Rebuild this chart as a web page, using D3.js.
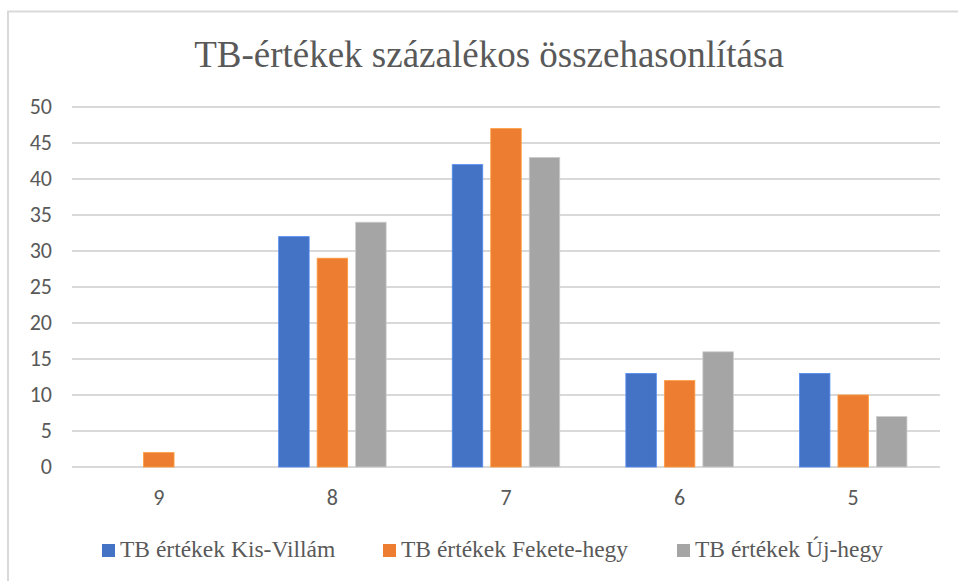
<!DOCTYPE html>
<html>

<head>
    <style>
        body {
            margin: 0;
            background: #fff;
        }

        .grid line {
            stroke: #d9d9d9;
            stroke-width: 2;
        }
    </style>
    <script src="https://d3js.org/d3.v7.min.js"></script>
</head>

<body>
    <svg width="958" height="581"></svg>
    <script>
        var categories = ["9", "8", "7", "6", "5"];
        var seriesNames = ["TB értékek Kis-Villám", "TB értékek Fekete-hegy", "TB értékek Új-hegy"];
        var kisVillam = [0, 32, 42, 13, 13];
        var feketeHegy = [2, 29, 47, 12, 10];
        var ujHegy = [0, 34, 43, 16, 7];
        var yTicks = [0, 5, 10, 15, 20, 25, 30, 35, 40, 45, 50];
        var colors = ["#4472c4", "#ed7d31", "#a5a5a5"];

        var seriesValues = [kisVillam, feketeHegy, ujHegy];

        var svg = d3.select("svg"),
            plotLeft = 72,
            plotRight = 940,
            plotTop = 107,
            plotBottom = 467;

        // chart frame (only top and left edges visible in the cut)
        svg.append("path")
            .attr("d", "M8,590 L8,11.5 L958,11.5")
            .attr("fill", "none")
            .attr("stroke", "#d9d9d9")
            .attr("stroke-width", 2);

        svg.append("text")
            .attr("x", 489)
            .attr("y", 67)
            .attr("text-anchor", "middle")
            .style("font-family", "'Liberation Serif'")
            .style("font-size", "37px")
            .style("fill", "#595959")
            .text("TB-értékek százalékos összehasonlítása");

        var x0 = d3.scaleBand().domain(categories).range([plotLeft, plotRight]),
            x1 = d3.scaleBand().domain(d3.range(3)).range([0, 107.5]).paddingInner(0.208),
            y = d3.scaleLinear().domain([0, 50]).range([plotBottom, plotTop]);

        var grid = svg.append("g").attr("class", "grid");
        grid.selectAll("line")
            .data(yTicks)
            .enter().append("line")
            .attr("x1", plotLeft)
            .attr("x2", plotRight)
            .attr("y1", function (d) { return y(d); })
            .attr("y2", function (d) { return y(d); });

        function tickStyle(sel) {
            sel.style("font-family", "Carlito")
                .style("font-size", "22px")
                .style("fill", "#595959");
        }

        svg.append("g").selectAll("text")
            .data(yTicks)
            .enter().append("text")
            .call(tickStyle)
            .attr("x", 52)
            .attr("y", function (d) { return y(d) - 1; })
            .attr("dy", "0.35em")
            .attr("text-anchor", "end")
            .text(function (d) { return d; });

        svg.append("g").selectAll("text")
            .data(categories)
            .enter().append("text")
            .call(tickStyle)
            .attr("x", function (d) { return x0(d) + x0.bandwidth() / 2; })
            .attr("y", 497)
            .attr("dy", "0.35em")
            .attr("text-anchor", "middle")
            .text(function (d) { return d; });

        var groupOffset = (x0.bandwidth() - 107.5) / 2;

        seriesValues.forEach(function (vals, si) {
            svg.append("g").selectAll("rect")
                .data(vals)
                .enter().append("rect")
                .attr("x", function (d, i) { return x0(categories[i]) + groupOffset + x1(si); })
                .attr("y", function (d) { return y(d); })
                .attr("width", x1.bandwidth())
                .attr("height", function (d) { return plotBottom - y(d); })
                .attr("fill", colors[si])
                .attr("stroke", d3.color(colors[si]).brighter(0.6))
                .attr("stroke-width", 0.8)
                .attr("display", function (d) { return d > 0 ? null : "none"; });
        });

        // legend
        var legendX = [102, 383, 677];
        var legend = svg.append("g");
        seriesNames.forEach(function (name, i) {
            legend.append("rect")
                .attr("x", legendX[i])
                .attr("y", 544)
                .attr("width", 13)
                .attr("height", 13)
                .attr("fill", colors[i]);
            legend.append("text")
                .attr("x", legendX[i] + 18)
                .attr("y", 557)
                .style("font-family", "'Liberation Serif'")
                .style("font-size", "23.5px")
                .style("fill", "#595959")
                .text(name);
        });
    </script>
</body>

</html>
